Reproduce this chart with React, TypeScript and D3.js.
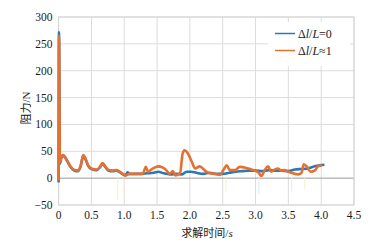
import React from "react";
import * as d3 from "d3";

const xTicks = [0, 0.5, 1.0, 1.5, 2.0, 2.5, 3.0, 3.5, 4.0, 4.5];
const yTicks = [-50, 0, 50, 100, 150, 200, 250, 300];
const xTickLabels = ["0", "0.5", "1.0", "1.5", "2.0", "2.5", "3.0", "3.5", "4.0", "4.5"];

const seriesBlueT = [0, 0.006, 0.02, 0.04, 0.06, 0.09, 0.13, 0.18, 0.24, 0.3, 0.34, 0.376, 0.41, 0.45, 0.5, 0.58, 0.63, 0.67, 0.71, 0.76, 0.82, 0.88, 0.93, 0.98, 1.02, 1.05, 1.08, 1.15, 1.25, 1.35, 1.45, 1.52, 1.6, 1.7, 1.8, 1.88, 1.95, 2.02, 2.1, 2.2, 2.3, 2.4, 2.5, 2.6, 2.7, 2.8, 2.9, 3.0, 3.1, 3.2, 3.3, 3.4, 3.5, 3.6, 3.7, 3.8, 3.9, 3.98, 4.05];
const seriesBlueV = [-8, 272, 27, 37, 42, 40, 32, 21, 14, 13, 24, 42, 35, 23, 17, 15, 20, 27, 21, 14, 13, 14, 11, 7, 5, 11, 8, 8, 8, 9, 10, 12, 9, 7, 8, 7, 12, 12, 10, 8, 10, 8, 8, 10, 12, 13, 14, 14, 13, 15, 14, 14, 13, 16, 17, 18, 22, 24, 25];

const seriesOrangeT = [0, 0.006, 0.02, 0.04, 0.06, 0.09, 0.13, 0.18, 0.24, 0.3, 0.34, 0.376, 0.41, 0.45, 0.5, 0.58, 0.63, 0.67, 0.71, 0.76, 0.82, 0.88, 0.93, 0.98, 1.02, 1.08, 1.15, 1.28, 1.31, 1.33, 1.36, 1.41, 1.47, 1.52, 1.58, 1.64, 1.69, 1.74, 1.78, 1.85, 1.89, 1.92, 1.97, 2.03, 2.08, 2.15, 2.23, 2.3, 2.38, 2.46, 2.51, 2.56, 2.61, 2.69, 2.76, 2.86, 2.96, 3.04, 3.09, 3.14, 3.19, 3.24, 3.29, 3.34, 3.39, 3.44, 3.5, 3.57, 3.65, 3.7, 3.735, 3.79, 3.84, 3.91, 3.95, 4.01];
const seriesOrangeV = [-5, 265, 30, 38, 43, 41, 33, 22, 15, 14, 25, 43, 36, 24, 18, 16, 21, 28, 22, 15, 14, 15, 12, 8, 5, 8, 8, 8, 16, 21, 12, 16, 20, 22, 20, 15, 8, 13, 5, 9, 46, 52, 46, 30, 18, 22, 14, 9, 8, 6, 15, 24, 15, 15, 21, 19, 15, 11, 4, 15, 22, 12, 16, 18, 14, 15, 12, 9, 7, 10, 26, 20, 12, 15, 22, 24];

const faintT = [0.9, 1.0, 2.55, 3.05, 3.55, 3.75];
const faintV = [-40, -30, -25, -30, -25, -20];
const faintColors = ["#fbf1d2", "#fbe7d9", "#fbf1d2", "#e3eff8", "#e3eff8", "#fbf1d2"];

const BLUE = "#2b78b5";
const ORANGE = "#e6702f";

export default function App() {
  const W = 385, H = 243;
  const left = 58.6, right = 354, top = 17, bottom = 205;
  const x = d3.scaleLinear().domain([0, 4.5]).range([left, right]);
  const y = d3.scaleLinear().domain([-50, 300]).range([bottom, top]);
  const line = d3
    .line<[number, number]>()
    .x((d) => x(d[0]))
    .y((d) => y(d[1]))
    .curve(d3.curveMonotoneX);
  const blue = seriesBlueT.map((t, i) => [t, seriesBlueV[i]] as [number, number]);
  const orange = seriesOrangeT.map((t, i) => [t, seriesOrangeV[i]] as [number, number]);
  const serif = "Liberation Serif, Times New Roman, serif";
  const cjk = "Noto Sans CJK SC, sans-serif";
  return (
    <svg width={W} height={H} style={{ position: "absolute", left: 0, top: 0 }} xmlns="http://www.w3.org/2000/svg">
      <rect x={0} y={0} width={W} height={H} fill="#fff" />
      {xTicks.map((t) => (
        <line key={"gx" + t} x1={x(t)} x2={x(t)} y1={top} y2={bottom} stroke="#dcdcdc" strokeWidth={1} />
      ))}
      {yTicks.map((v) => (
        <line key={"gy" + v} x1={left} x2={right} y1={y(v)} y2={y(v)} stroke={v === 0 ? "#9a9a9a" : "#dcdcdc"} strokeWidth={1} />
      ))}
      <rect x={left} y={top} width={right - left} height={bottom - top} fill="none" stroke="#d4d4d4" />
      {faintT.map((t, i) => (
        <line key={"f" + i} x1={x(t)} x2={x(t)} y1={y(0)} y2={y(faintV[i])} stroke={faintColors[i]} strokeWidth={1.2} />
      ))}
      <path d={line(blue) || ""} fill="none" stroke={BLUE} strokeWidth={2.6} strokeLinejoin="round" />
      <path d={line(orange) || ""} fill="none" stroke={ORANGE} strokeWidth={2.6} strokeLinejoin="round" />
      <g style={{ fontFamily: serif }} fill="#1a1a1a" fontSize={11.5}>
        {yTicks.map((v) => (
          <text key={"yt" + v} x={52.5} y={y(v) + 4} textAnchor="end">
            {v < 0 ? "\u2212" + Math.abs(v) : v}
          </text>
        ))}
        {xTicks.map((t, i) => (
          <text key={"xt" + t} x={x(t)} y={219} textAnchor="middle">
            {xTickLabels[i]}
          </text>
        ))}
      </g>
      <text x={207} y={237} textAnchor="middle" fontSize={11} fill="#1a1a1a">
        <tspan style={{ fontFamily: cjk }}>求解时间</tspan>
        <tspan style={{ fontFamily: serif }}>/</tspan>
        <tspan style={{ fontFamily: serif, fontStyle: "italic" }}>s</tspan>
      </text>
      <text transform={`translate(30,108) rotate(-90)`} textAnchor="middle" fontSize={11} fill="#1a1a1a">
        <tspan style={{ fontFamily: cjk }}>阻力</tspan>
        <tspan style={{ fontFamily: serif }}>/N</tspan>
      </text>
      <rect x={268} y={22} width={82} height={44} fill="#fff" />
      <line x1={275} x2={295} y1={33.5} y2={33.5} stroke={BLUE} strokeWidth={1.5} />
      <line x1={275} x2={295} y1={50.5} y2={50.5} stroke={ORANGE} strokeWidth={1.5} />
      <g style={{ fontFamily: serif }} fontSize={12} fill="#1a1a1a">
        <text x={298} y={37.5}>
          Δ<tspan fontStyle="italic">l</tspan>/<tspan fontStyle="italic">L</tspan>=0
        </text>
        <text x={298} y={54.5}>
          Δ<tspan fontStyle="italic">l</tspan>/<tspan fontStyle="italic">L</tspan>≈1
        </text>
      </g>
    </svg>
  );
}
